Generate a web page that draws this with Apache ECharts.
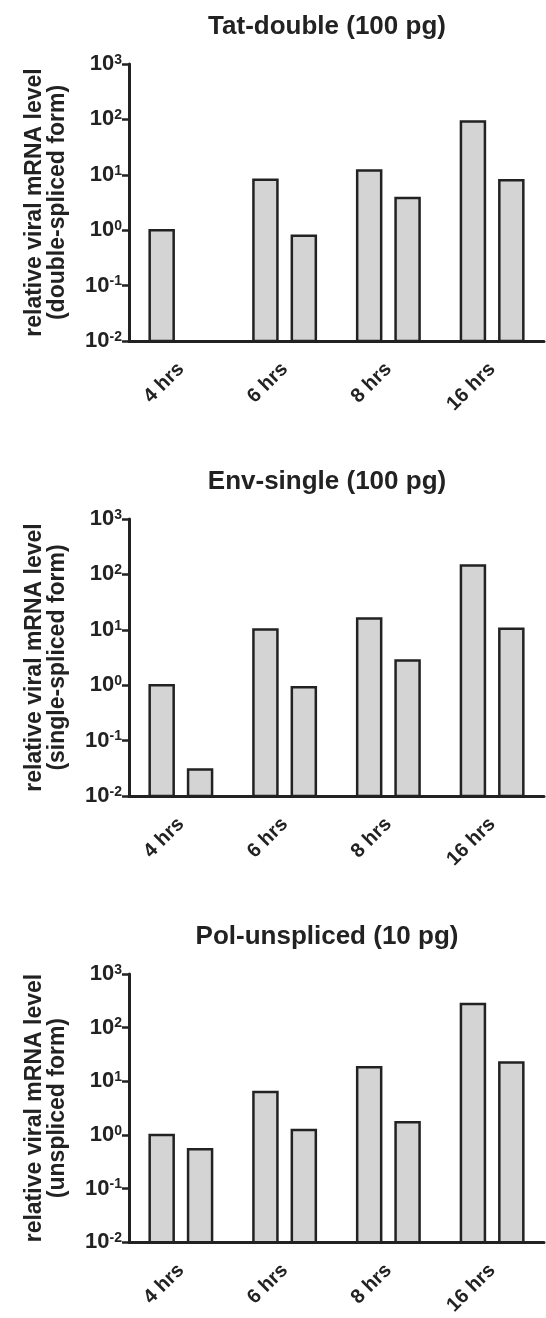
<!DOCTYPE html>
<html>
<head>
<meta charset="utf-8">
<script src="https://cdn.jsdelivr.net/npm/echarts@6/dist/echarts.min.js"></script>
<style>
  html, body { margin: 0; padding: 0; background: #fff; }
  #chart { width: 546px; height: 1318px; }
</style>
</head>
<body>
<div id="chart"></div>
<script>
  // data
  const categories = ['4 hrs', '6 hrs', '8 hrs', '16 hrs'];
  const panelTitles = ['Tat-double (100 pg)', 'Env-single (100 pg)', 'Pol-unspliced (10 pg)'];
  const panelAxisNames = [
    'relative viral mRNA level\n(double-spliced form)',
    'relative viral mRNA level\n(single-spliced form)',
    'relative viral mRNA level\n(unspliced form)'
  ];
  const tatFirst = [1.0, 8.1, 12.0, 92];
  const tatSecond = [null, 0.79, 3.8, 8.0];
  const envFirst = [1.0, 10.1, 16.0, 145];
  const envSecond = [0.03, 0.92, 2.8, 10.4];
  const polFirst = [1.0, 6.3, 18.2, 276];
  const polSecond = [0.54, 1.23, 1.72, 22.4];
  const yTickExps = [-2, -1, 0, 1, 2, 3];

  const panelData = [[tatFirst, tatSecond], [envFirst, envSecond], [polFirst, polSecond]];
  const yMin = 0.01, yMax = 1000;
  const gridTops = [64, 519, 974];
  const titleMid = [22, 477, 932];
  const ink = '#222';
  const font = '"Liberation Sans", Arial, sans-serif';
  const barW = 24, barShift = 19.2;

  // bars on a log axis grow from 1 in echarts, so draw them from the axis floor
  function barRenderer(shift) {
    return function (params, api) {
      const top = api.coord([api.value(0), api.value(1)]);
      const base = api.coord([api.value(0), yMin]);
      return {
        type: 'rect',
        shape: { x: top[0] + shift - barW / 2, y: top[1], width: barW, height: base[1] - top[1] },
        style: { fill: '#d4d4d4', stroke: ink, lineWidth: 2.5 }
      };
    };
  }

  const chart = echarts.init(document.getElementById('chart'));

  let title = [], grid = [], xAxis = [], yAxis = [], series = [];
  for (let i = 0; i < 3; i++) {
    title.push({
      text: panelTitles[i],
      left: 322, top: titleMid[i] - 13, textAlign: 'center',
      textStyle: { fontFamily: font, fontSize: 26, fontWeight: 'bold', color: ink, lineHeight: 26 }
    });
    grid.push({ left: 129, right: 2, top: gridTops[i], height: 277 });
    xAxis.push({
      type: 'category', gridIndex: i, data: categories, boundaryGap: true,
      axisLine: { lineStyle: { color: ink, width: 3 } },
      axisTick: { alignWithLabel: true, length: 9, lineStyle: { color: ink, width: 2.5 } },
      axisLabel: { rotate: 45, margin: 25, color: ink, fontFamily: font, fontSize: 20, fontWeight: 'bold' }
    });
    yAxis.push({
      type: 'log', logBase: 10, gridIndex: i, min: yMin, max: yMax,
      name: panelAxisNames[i], nameLocation: 'middle', nameGap: 60,
      nameTextStyle: { fontFamily: font, fontSize: 23, fontWeight: 'bold', color: ink, lineHeight: 23 },
      axisLine: { show: true, lineStyle: { color: ink, width: 3 } },
      axisTick: { show: true, length: 7, lineStyle: { color: ink, width: 2.5 } },
      splitLine: { show: false },
      axisLabel: {
        margin: 7,
        formatter: function (v) {
          const e = Math.round(Math.log10(v));
          const exp = yTickExps.find(x => x === e);
          return '{b|10}{s|' + exp + '}';
        },
        rich: {
          b: { fontFamily: font, fontSize: 22, fontWeight: 'bold', color: ink, lineHeight: 22 },
          s: { fontFamily: font, fontSize: 14, fontWeight: 'bold', color: ink, verticalAlign: 'top', lineHeight: 14 }
        }
      }
    });
    [-barShift, barShift].forEach(function (shift, k) {
      const vals = panelData[i][k];
      series.push({
        type: 'custom', xAxisIndex: i, yAxisIndex: i,
        renderItem: barRenderer(shift),
        encode: { x: 0, y: 1 },
        data: vals.map((v, j) => [j, v]).filter(d => d[1] != null),
        silent: true
      });
    });
  }

  chart.setOption({ animation: false, title, grid, xAxis, yAxis, series });
</script>
</body>
</html>
